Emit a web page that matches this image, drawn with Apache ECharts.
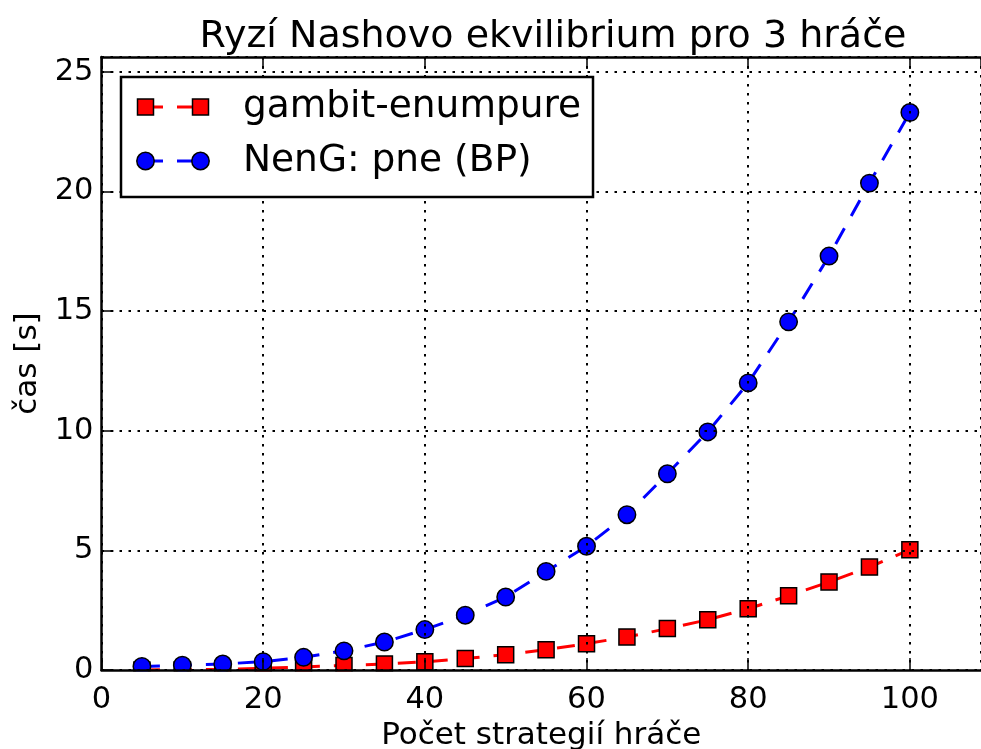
<!DOCTYPE html>
<html>
<head>
<meta charset="utf-8">
<script src="https://cdn.jsdelivr.net/npm/echarts@6/dist/echarts.min.js"></script>
<style>
html,body{margin:0;padding:0;background:#fff;}
#c{width:981px;height:749px;}
</style>
</head>
<body>
<div id="c"></div>
<script>
const titleText = 'Ryzí Nashovo ekvilibrium pro 3 hráče';
const xLabel = 'Počet strategií hráče';
const yLabel = 'čas [s]';
const seriesNames = ['gambit-enumpure', 'NenG: pne (BP)'];
const strategies = [5,10,15,20,25,30,35,40,45,50,55,60,65,70,75,80,85,90,95,100];
const gambitTimes = [0.005,0.01,0.03,0.07,0.13,0.19,0.25,0.34,0.48,0.64,0.85,1.1,1.38,1.73,2.1,2.56,3.1,3.68,4.3,5.03];
const nengTimes = [0.15,0.2,0.25,0.35,0.53,0.8,1.17,1.69,2.29,3.05,4.12,5.17,6.49,8.2,9.95,12.0,14.55,17.3,20.35,23.3];
const xMax = 108.8, yMax = 25.62;

const FONT = 'DejaVu Sans';
const chart = echarts.init(document.getElementById('c'));

const gL = 101.5, gT = 57, gW = 879.5, gH = 613;

function axisBase() {
  return {
    z: 10,
    axisLine: {show: true, onZero: false, lineStyle: {color: '#000', width: 2.5}},
    axisTick: {show: true, inside: true, length: 12, lineStyle: {color: '#000', width: 1.5}},
  };
}
const gridLine = {show: true, lineStyle: {color: '#000', width: 2, type: [2.5, 6.5]}};

function legendRow(y, color, symbol, name) {
  const els = [];
  els.push({type: 'line', z: 21, shape: {x1: 145, y1: y, x2: 201, y2: y},
    style: {stroke: color, lineWidth: 3, lineDash: [18, 14]}});
  [145.5, 200.5].forEach(cx => {
    if (symbol === 'rect') {
      els.push({type: 'rect', z: 22, shape: {x: cx - 8, y: y - 8, width: 16, height: 16},
        style: {fill: color, stroke: '#000', lineWidth: 1.5}});
    } else {
      els.push({type: 'circle', z: 22, shape: {cx: cx, cy: y, r: 8.7},
        style: {fill: color, stroke: '#000', lineWidth: 1.5}});
    }
  });
  els.push({type: 'text', z: 22, x: 243, y: y,
    style: {text: name, font: '37.5px "' + FONT + '"', fill: '#000', textVerticalAlign: 'middle', textAlign: 'left'}});
  return els;
}

const option = {
  animation: false,
  backgroundColor: '#fff',
  textStyle: {fontFamily: FONT},
  title: {
    text: titleText, left: 548, top: 13, textAlign: 'center',
    textStyle: {fontFamily: FONT, fontSize: 38, fontWeight: 'normal', color: '#000'}
  },
  grid: {left: gL, top: gT, width: gW, height: gH, containLabel: false, outerBoundsMode: 'none'},
  xAxis: [
    Object.assign(axisBase(), {
      type: 'value', min: 0, max: xMax, interval: 20, position: 'bottom',
      name: xLabel, nameLocation: 'middle', nameGap: 47,
      nameTextStyle: {fontFamily: FONT, fontSize: 31, color: '#000'},
      axisLabel: {show: true, margin: 15, fontFamily: FONT, fontSize: 30.5, color: '#000', showMaxLabel: false},
      splitLine: gridLine
    }),
    Object.assign(axisBase(), {
      type: 'value', min: 0, max: xMax, interval: 20, position: 'top',
      axisLabel: {show: false}, splitLine: {show: false}
    })
  ],
  yAxis: [
    Object.assign(axisBase(), {
      type: 'value', min: 0, max: yMax, interval: 5, position: 'left',
      name: yLabel, nameLocation: 'middle', nameGap: 57,
      nameTextStyle: {fontFamily: FONT, fontSize: 31, color: '#000'},
      axisLabel: {show: true, margin: 8, fontFamily: FONT, fontSize: 30.5, color: '#000', showMaxLabel: false},
      splitLine: gridLine
    })
  ],
  series: [
    {
      name: seriesNames[0], type: 'line', z: 2,
      data: strategies.map((x, i) => [x, gambitTimes[i]]),
      symbol: 'rect', symbolSize: 16, showAllSymbol: true,
      lineStyle: {color: '#ff0000', width: 3, type: [18, 14]},
      itemStyle: {color: '#ff0000', borderColor: '#000', borderWidth: 1.5},
      clip: false
    },
    {
      name: seriesNames[1], type: 'line', z: 3,
      data: strategies.map((x, i) => [x, nengTimes[i]]),
      symbol: 'circle', symbolSize: 17.4, showAllSymbol: true,
      lineStyle: {color: '#0000ff', width: 3, type: [18, 14]},
      itemStyle: {color: '#0000ff', borderColor: '#000', borderWidth: 1.5},
      clip: false
    }
  ],
  graphic: [
    {type: 'rect', z: 5, silent: true, shape: {x: 0, y: 671.5, width: 981, height: 9}, style: {fill: '#fff'}},
    {type: 'rect', z: 20, shape: {x: 121, y: 77, width: 472, height: 120},
      style: {fill: '#fff', stroke: '#000', lineWidth: 2.5}}
  ].concat(legendRow(107, '#ff0000', 'rect', seriesNames[0]))
   .concat(legendRow(161, '#0000ff', 'circle', seriesNames[1]))
};
chart.setOption(option);
</script>
</body>
</html>
